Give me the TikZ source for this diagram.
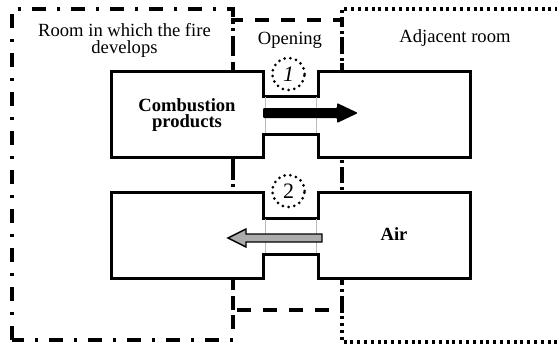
\documentclass[tikz,border=0pt]{standalone}
\usepackage{fontspec}
\setmainfont{Liberation Serif}
\begin{document}
\begin{tikzpicture}[x=1pt,y=-1pt,
  roomline/.style={line width=3.2pt},
  boxline/.style={line width=3pt, line join=miter},
  lbl/.style={font=\fontsize{18.6}{15}\selectfont, inner sep=0pt, align=center},
  blbl/.style={font=\fontsize{18.6}{12.5}\selectfont\bfseries, inner sep=0pt, align=center},
  numcirc/.style={circle, draw, line width=3pt, dash pattern=on 0pt off 5.8pt, line cap=round, minimum size=32pt, inner sep=0pt, font=\fontsize{22}{22}\selectfont},
  thinsep/.style={draw=gray!55, line width=0.6pt}]
\useasboundingbox (0,0) rectangle (557,345);
\clip (0,0) rectangle (557,345);
\fill[white] (0,0) rectangle (557,345);
% rooms
\draw[roomline, dash pattern=on 14pt off 11pt on 3pt off 11pt] (12,340) -- (12,9) -- (233,9) -- (233,340) -- cycle;
\draw[roomline, dash pattern=on 14pt off 12pt] (233,310) -- (233,20) -- (342,20) -- (342,310) -- cycle;
\draw[roomline, dash pattern=on 3pt off 3.8pt] (565,9) -- (342,9) -- (342,342) -- (565,342);
% upper box pair
\fill[white] (111,72) rectangle (263,157);
\fill[white] (318,72) rectangle (470,157);
\fill[white] (263,96) rectangle (318,134);
\draw[boxline] (263,96) -- (263,72) -- (111,72) -- (111,157) -- (263,157) -- (263,134) -- (318,134) -- (318,157) -- (470,157) -- (470,72) -- (318,72) -- (318,96) -- cycle;
\draw[thinsep] (265,97) -- (265,133) (316,97) -- (316,133);
% lower box pair
\fill[white] (111,192) rectangle (263,278);
\fill[white] (318,192) rectangle (470,278);
\fill[white] (263,218) rectangle (318,254);
\draw[boxline] (263,218) -- (263,192) -- (111,192) -- (111,278) -- (263,278) -- (263,254) -- (318,254) -- (318,278) -- (470,278) -- (470,192) -- (318,192) -- (318,218) -- cycle;
\draw[thinsep] (265,219) -- (265,253) (316,219) -- (316,253);
% arrows
\fill[black, rounded corners=1pt] (263,108) -- (337,108) -- (337,103) -- (358,113) -- (337,123) -- (337,118) -- (263,118) -- cycle;
\draw[fill=gray!65, line width=1.4pt, line join=miter] (228,238) -- (246,229) -- (246,234) -- (322,234) -- (322,242) -- (246,242) -- (246,247) -- cycle;
% circles
\node[numcirc] (c1) at (288.5,74) {\itshape 1};
\node[numcirc] (c2) at (288.5,191) {2};
% labels
\node[lbl, anchor=base] (room1) at (124.5,36.5) {Room in which the fire};
\node[lbl, anchor=base] (room2) at (124.5,53.5) {develops};
\node[lbl, anchor=base] (open) at (290,45) {Opening};
\node[lbl, anchor=base] (adj) at (455,43) {Adjacent room};
\node[blbl, anchor=base] (comb1) at (187,111) {Combustion};
\node[blbl, anchor=base] (comb2) at (187,128) {products};
\node[blbl, anchor=base] (air) at (394,240) {Air};
\end{tikzpicture}
\end{document}
